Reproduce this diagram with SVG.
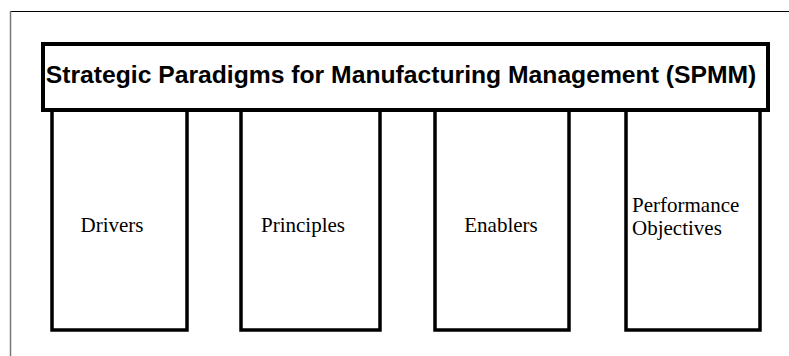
<svg xmlns="http://www.w3.org/2000/svg" width="789" height="356" viewBox="0 0 789 356">
<style>
.box{fill:#fff;stroke:#000;stroke-width:3.5}
.lbl{font-family:"Liberation Serif","Times New Roman",serif;font-size:21px;fill:#000}
.title{font-family:"Liberation Sans",Arial,sans-serif;font-size:24.7px;font-weight:bold;fill:#000}
</style>
<rect width="789" height="356" fill="#fff"/>
<g id="frame">
<line x1="10" y1="11.5" x2="789" y2="11.5" stroke="#000" stroke-width="1.2"/>
<line x1="10.5" y1="11" x2="10.5" y2="356" stroke="#777" stroke-width="1.5"/>
</g>
<g id="drivers">
<rect class="box" x="52" y="108" width="135" height="222"/>
<text class="lbl" x="112" y="232" text-anchor="middle">Drivers</text>
</g>
<g id="principles">
<rect class="box" x="241" y="108" width="139" height="222"/>
<text class="lbl" x="303" y="232" text-anchor="middle">Principles</text>
</g>
<g id="enablers">
<rect class="box" x="435" y="108" width="134" height="222"/>
<text class="lbl" x="501" y="232" text-anchor="middle">Enablers</text>
</g>
<g id="performance">
<rect class="box" x="626" y="108" width="134" height="222"/>
<text class="lbl" x="632" y="212">Performance</text>
<text class="lbl" x="632" y="235">Objectives</text>
</g>
<g id="title">
<rect x="43" y="44" width="725" height="66" fill="#fff" stroke="#000" stroke-width="4"/>
<text class="title" x="401" y="83" text-anchor="middle">Strategic Paradigms for Manufacturing Management (SPMM)</text>
</g>
<g id="connectors"></g>
</svg>
